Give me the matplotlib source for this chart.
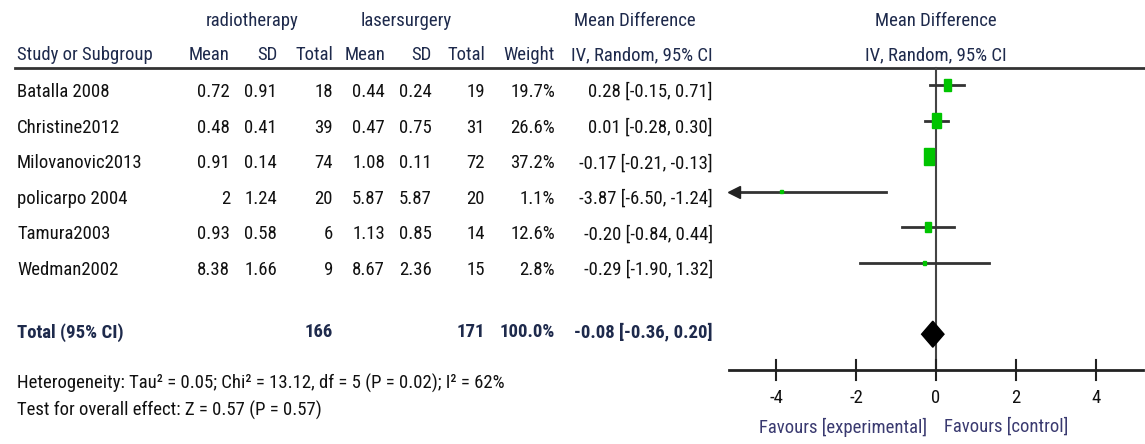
import matplotlib.pyplot as plt
import matplotlib.font_manager as fm
from matplotlib.patches import Rectangle, Polygon

# study data
studies = ['Batalla 2008', 'Christine2012', 'Milovanovic2013', 'policarpo 2004',
           'Tamura2003', 'Wedman2002']
rt_mean = ['0.72', '0.48', '0.91', '2', '0.93', '8.38']
rt_sd = ['0.91', '0.41', '0.14', '1.24', '0.58', '1.66']
rt_n = [18, 39, 74, 20, 6, 9]
ls_mean = ['0.44', '0.47', '1.08', '5.87', '1.13', '8.67']
ls_sd = ['0.24', '0.75', '0.11', '5.87', '0.85', '2.36']
ls_n = [19, 31, 72, 20, 14, 15]
weight = [19.7, 26.6, 37.2, 1.1, 12.6, 2.8]
md = [0.28, 0.01, -0.17, -3.87, -0.20, -0.29]
lo = [-0.15, -0.28, -0.21, -6.50, -0.84, -1.90]
hi = [0.71, 0.30, -0.13, -1.24, 0.44, 1.32]

total_md, total_lo, total_hi = -0.08, -0.36, 0.20
total_rt, total_ls = 166, 171
ticks = [-4, -2, 0, 2, 4]
het_text = 'Heterogeneity: Tau² = 0.05; Chi² = 13.12, df = 5 (P = 0.02); I² = 62%'
test_text = 'Test for overall effect: Z = 0.57 (P = 0.57)'

W, H = 1145, 444
navy = '#1e2a4c'
green = '#00c400'

# pick a narrow face if one is installed
names = {f.name for f in fm.fontManager.ttflist}
fam = ['Liberation Sans']
for n in ['Liberation Sans Narrow', 'Roboto Condensed', 'Open Sans Condensed',
          'Noto Sans Condensed', 'DejaVu Sans Condensed']:
    if n in names:
        fam = [n]
        break
fam = fam + ['DejaVu Sans']

fig = plt.figure(figsize=(W / 100, H / 100), dpi=100)

# fit the font size so 'Batalla 2008' is ~93 px wide, as in the original
r = fig.canvas.get_renderer()
probe = fig.text(0, 0, 'Batalla 2008', fontsize=15, family=fam)
FS = 15 * 93 / probe.get_window_extent(r).width
probe.remove()

# rows: pixel y = 85 + 35.6 * row
ypix = lambda p: (p - 85) / 35.6
ylim = (ypix(H), ypix(0))

ax = fig.add_axes([0, 0, 1, 1])   # table text, x in pixels
ax.set_xlim(0, W)
ax.set_ylim(*ylim)
ax.axis('off')
fx = fig.add_axes([0, 0, 1, 1])   # forest plot, x in mean difference units
fx.set_xlim(-936 / 40, (W - 936) / 40)
fx.set_ylim(*ylim)
fx.axis('off')


def txt(x, y, s, ha='right', color='#111111', weight='normal'):
    ax.text(x, y, s, ha=ha, va='center', fontsize=FS, family=fam, color=color,
            fontweight=weight)


# headers
hr1, hr2 = ypix(21), ypix(55)
txt(252, hr1, 'radiotherapy', ha='center', color=navy)
txt(406, hr1, 'lasersurgery', ha='center', color=navy)
txt(635, hr1, 'Mean Difference', ha='center', color=navy)
txt(936, hr1, 'Mean Difference', ha='center', color=navy)
txt(17, hr2, 'Study or Subgroup', ha='left', color=navy)
col_x = [230, 277, 333, 385, 432, 485, 555, 713]
for x, s in zip(col_x, ['Mean', 'SD', 'Total', 'Mean', 'SD', 'Total', 'Weight',
                        'IV, Random, 95% CI']):
    txt(x, hr2, s, color=navy)
txt(936, hr2, 'IV, Random, 95% CI', ha='center', color=navy)
ax.plot([15, W], [ypix(68)] * 2, color='#333333', lw=2)

# study rows
off = 7 / 35.6
for i, name in enumerate(studies):
    y = i + off
    txt(17, y, name, ha='left')
    vals = [rt_mean[i], rt_sd[i], rt_n[i], ls_mean[i], ls_sd[i], ls_n[i],
            '%.1f%%' % weight[i], '%.2f [%.2f, %.2f]' % (md[i], lo[i], hi[i])]
    for x, v in zip(col_x, vals):
        txt(x, y, str(v))

# total row
yt = 7 - 2 / 35.6
txt(17, yt, 'Total (95% CI)', ha='left', color=navy, weight='bold')
txt(333, yt, str(total_rt), color=navy, weight='bold')
txt(485, yt, str(total_ls), color=navy, weight='bold')
txt(555, yt, '100.0%', color=navy, weight='bold')
txt(713, yt, '%.2f [%.2f, %.2f]' % (total_md, total_lo, total_hi), color=navy,
    weight='bold')
txt(17, ypix(383), het_text, ha='left')
txt(17, ypix(410), test_text, ha='left')

# forest plot
left, right = -5.18, 5.18
fx.plot([0, 0], [ypix(68), 8], color='#444444', lw=1.5, zorder=1)
for i in range(len(studies)):
    x0 = max(lo[i], left + 0.12)
    fx.plot([x0, hi[i]], [i, i], color='#333333', lw=2, zorder=2)
    if lo[i] < left:
        fx.plot([left + 0.12], [i], marker='<', color='#222222', ms=8, zorder=2)
    w = max(1.65 * weight[i] ** 0.5, 3) / 40
    h = max(2.8 * weight[i] ** 0.5, 3) / 35.6
    fx.add_patch(Rectangle((md[i] - w / 2, i - h / 2), w, h, color=green, zorder=3))

dh = 13 / 35.6
fx.add_patch(Polygon([[total_lo, 7], [total_md, 7 - dh], [total_hi, 7],
                      [total_md, 7 + dh]], closed=True, color='black', zorder=3))

# x axis
fx.plot([left, right], [8, 8], color='#222222', lw=2)
for t in ticks:
    fx.plot([t, t], [ypix(360), ypix(380)], color='#222222', lw=1.5)
    fx.text(t, ypix(398), '%d' % t, ha='center', va='center', fontsize=FS,
            family=fam, color='#111111')
fx.text(-0.22, ypix(427), 'Favours [experimental]', ha='right', va='center',
        fontsize=FS, family=fam, color='#3a3a70')
fx.text(0.2, ypix(427), 'Favours [control]', ha='left', va='center',
        fontsize=FS, family=fam, color='#3a3a70')

fig.savefig('out.png', dpi=100)
